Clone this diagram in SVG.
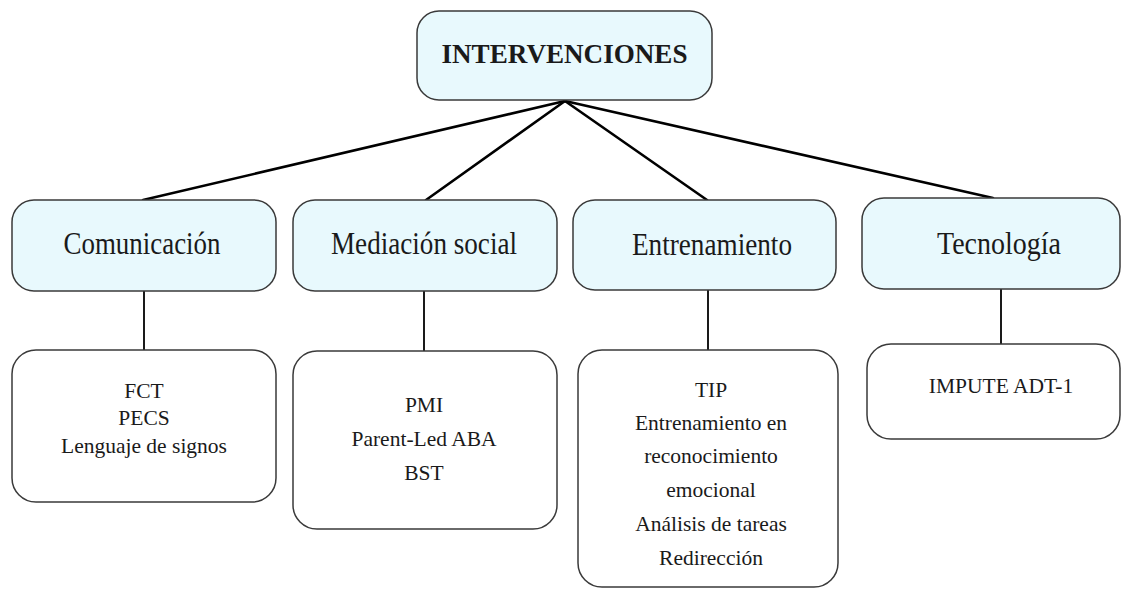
<svg xmlns="http://www.w3.org/2000/svg" width="1121" height="589" viewBox="0 0 1121 589">
<style>
.hdr{fill:#e8f9fd;stroke:#3a3a3a;stroke-width:1.5}
.box{fill:#ffffff;stroke:#3a3a3a;stroke-width:1.5}
.t{fill:#1a1a1a;text-anchor:middle}
.h{font-size:31px}
.b{font-size:21.5px}
.c1{stroke:#000;stroke-width:2.6;fill:none;stroke-linecap:round}
.c2{stroke:#1a1a1a;stroke-width:2;fill:none}
</style>
<rect width="1121" height="589" fill="#ffffff"/>
<g id="connectors">
<line class="c1" x1="565" y1="101" x2="143" y2="200"/>
<line class="c1" x1="565" y1="101" x2="426" y2="200"/>
<line class="c1" x1="565" y1="101" x2="707" y2="200"/>
<line class="c1" x1="565" y1="101" x2="993" y2="198"/>
<line class="c2" x1="144" y1="291" x2="144" y2="350"/>
<line class="c2" x1="424" y1="291" x2="424" y2="351"/>
<line class="c2" x1="708" y1="290" x2="708" y2="350"/>
<line class="c2" x1="1001" y1="287" x2="1001" y2="344"/>
</g>
<g font-family="'Liberation Serif', 'Times New Roman', serif">
<g id="root">
<rect class="hdr" x="417" y="11" width="295" height="89" rx="22"/>
<text class="t" x="564.5" y="63" font-size="28" font-weight="bold" textLength="246" lengthAdjust="spacingAndGlyphs">INTERVENCIONES</text>
</g>
<g id="comunicacion">
<rect class="hdr" x="12" y="200" width="264" height="91" rx="22"/>
<text class="t h" x="142" y="254" textLength="157" lengthAdjust="spacingAndGlyphs">Comunicación</text>
</g>
<g id="mediacion">
<rect class="hdr" x="293" y="200" width="264" height="91" rx="22"/>
<text class="t h" x="424" y="254" textLength="186" lengthAdjust="spacingAndGlyphs">Mediación social</text>
</g>
<g id="entrenamiento">
<rect class="hdr" x="573" y="200" width="263" height="90" rx="22"/>
<text class="t h" x="712" y="255" textLength="160" lengthAdjust="spacingAndGlyphs">Entrenamiento</text>
</g>
<g id="tecnologia">
<rect class="hdr" x="862" y="198" width="258" height="91" rx="22"/>
<text class="t h" x="999" y="254" textLength="124" lengthAdjust="spacingAndGlyphs">Tecnología</text>
</g>
<g id="comunicacion-items">
<rect class="box" x="12" y="350" width="264" height="152" rx="24"/>
<text class="t b" x="144" y="398">FCT</text>
<text class="t b" x="144" y="425">PECS</text>
<text class="t b" x="144" y="453">Lenguaje de signos</text>
</g>
<g id="mediacion-items">
<rect class="box" x="293" y="351" width="264" height="178" rx="24"/>
<text class="t b" x="424" y="412">PMI</text>
<text class="t b" x="424" y="446">Parent-Led ABA</text>
<text class="t b" x="424" y="480">BST</text>
</g>
<g id="entrenamiento-items">
<rect class="box" x="578" y="350" width="260" height="237" rx="24"/>
<text class="t b" x="711" y="397">TIP</text>
<text class="t b" x="711" y="430">Entrenamiento en</text>
<text class="t b" x="711" y="463">reconocimiento</text>
<text class="t b" x="711" y="497">emocional</text>
<text class="t b" x="711" y="531">Análisis de tareas</text>
<text class="t b" x="711" y="565">Redirección</text>
</g>
<g id="tecnologia-items">
<rect class="box" x="867" y="344" width="253" height="95" rx="24"/>
<text class="t b" x="1001" y="393">IMPUTE ADT-1</text>
</g>
</g>
</svg>
